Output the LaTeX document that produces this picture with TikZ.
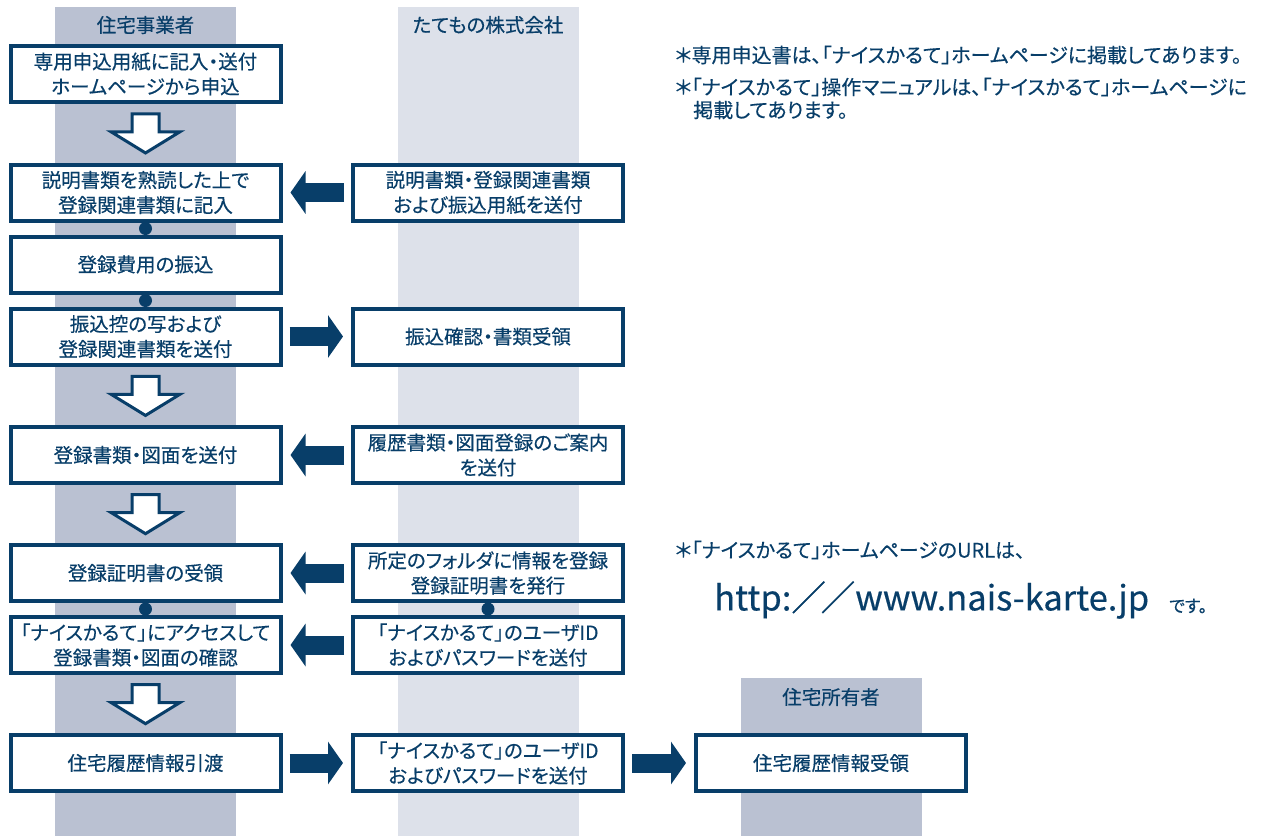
\documentclass[tikz,border=0pt]{standalone}
\usepackage{fontspec}
\setmainfont{Noto Sans CJK JP}[RawFeature=+palt, FakeBold=0.4]
\newfontfamily\urlfont{Noto Sans CJK JP}[FakeBold=0.4]
\usetikzlibrary{arrows.meta,calc}
\definecolor{navy}{RGB}{8,62,105}
\definecolor{bandA}{RGB}{186,193,210}
\definecolor{bandB}{RGB}{221,225,234}
\tikzset{
  box/.style={draw=navy, line width=4pt, fill=white, minimum width=270pt, minimum height=56pt,
    inner sep=0pt, align=center, text=navy, font=\fontsize{19.5}{25}\selectfont},
  head/.style={text=navy, font=\fontsize{19.5}{23}\selectfont, inner sep=0pt},
  note/.style={text=navy, font=\fontsize{20}{22}\selectfont, inner sep=0pt, anchor=west},
  dotnode/.style={circle, fill=navy, draw=none, minimum size=13pt, inner sep=0pt},
  fatarrow/.style={draw=navy, line width=19pt, line cap=butt,
    -{Triangle[length=15pt,width=42pt]}, shorten <=7pt, shorten >=8pt},
  hollowdown/.pic={
    \draw[navy, line width=3pt, line join=miter, fill=white]
      (-13.5,-19.5) -- (13.5,-19.5) -- (13.5,-1.5) -- (34.5,-1.5) -- (0,19.7)
      -- (-34.5,-1.5) -- (-13.5,-1.5) -- cycle;
  }
}
\begin{document}
\begin{tikzpicture}[x=1pt,y=-1pt]
\useasboundingbox (0,0) rectangle (1261,836);
% bands
\fill[bandA] (55,7) rectangle (236,836);
\fill[bandB] (398,7) rectangle (579,836);
\fill[bandA] (741,678) rectangle (922,836);
% headers
\node[head] (h1) at (145.5,25) {住宅事業者};
\node[head] (h2) at (488,25) {たてもの株式会社};
\node[head] (h3) at (831,697) {住宅所有者};
% left column
\node[box] (L1) at (145.5,74) {専用申込用紙に記入・送付\\ホームページから申込};
\node[box] (L2) at (145.5,192.5) {説明書類を熟読した上で\\登録関連書類に記入};
\node[box] (L3) at (145.5,264.5) {登録費用の振込};
\node[box] (L4) at (145.5,336.5) {振込控の写および\\登録関連書類を送付};
\node[box] (L5) at (145.5,455) {登録書類・図面を送付};
\node[box] (L6) at (145.5,573) {登録証明書の受領};
\node[box] (L7) at (145.5,645) {「ナイスかるて」にアクセスして\\登録書類・図面の確認};
\node[box] (L8) at (145.5,763) {住宅履歴情報引渡};
% middle column
\node[box] (M1) at (488,192.5) {説明書類・登録関連書類\\および振込用紙を送付};
\node[box] (M2) at (488,336.5) {振込確認・書類受領};
\node[box] (M3) at (488,455) {履歴書類・図面登録のご案内\\を送付};
\node[box] (M4) at (488,573) {所定のフォルダに情報を登録\\登録証明書を発行};
\node[box] (M5) at (488,645) {「ナイスかるて」のユーザID\\およびパスワードを送付};
\node[box] (M6) at (488,763) {「ナイスかるて」のユーザID\\およびパスワードを送付};
% right column
\node[box] (R1) at (831,763) {住宅履歴情報受領};
% hollow down arrows
\pic at ($(L1.south)!0.5!(L2.north)$) {hollowdown};
\pic at ($(L4.south)!0.5!(L5.north)$) {hollowdown};
\pic at ($(L5.south)!0.5!(L6.north)$) {hollowdown};
\pic at ($(L7.south)!0.5!(L8.north)$) {hollowdown};
% dots
\node[dotnode] (d1) at ($(L2.south)!0.5!(L3.north)$) {};
\node[dotnode] (d2) at ($(L3.south)!0.5!(L4.north)$) {};
\node[dotnode] (d3) at ($(L6.south)!0.5!(L7.north)$) {};
\node[dotnode] (d4) at ($(M4.south)!0.5!(M5.north)$) {};
% solid arrows
\draw[fatarrow] (M1.west) -- (L2.east);
\draw[fatarrow] (L4.east) -- (M2.west);
\draw[fatarrow] (M3.west) -- (L5.east);
\draw[fatarrow] (M4.west) -- (L6.east);
\draw[fatarrow] (M5.west) -- (L7.east);
\draw[fatarrow] (L8.east) -- (M6.west);
\draw[fatarrow] (M6.east) -- (R1.west);
% notes
\node[note] (n1) at (675,55) {＊専用申込書は、「ナイスかるて」ホームページに掲載してあります。};
\node[note] (n2) at (675,87) {＊「ナイスかるて」操作マニュアルは、「ナイスかるて」ホームページに};
\node[note] (n3) at (693,110) {掲載してあります。};
\node[note] (n4) at (675,550) {＊「ナイスかるて」ホームページのURLは、};
\node[text=navy, inner sep=0pt, anchor=west] (url) at (714,600)
  {\resizebox{435pt}{!}{\urlfont\fontsize{40}{42}\selectfont http:／\kern-6pt／www.nais-karte.jp}};
\node[note, font=\fontsize{17}{20}\selectfont] (desu) at (1169,606) {です。};
\end{tikzpicture}
\end{document}
